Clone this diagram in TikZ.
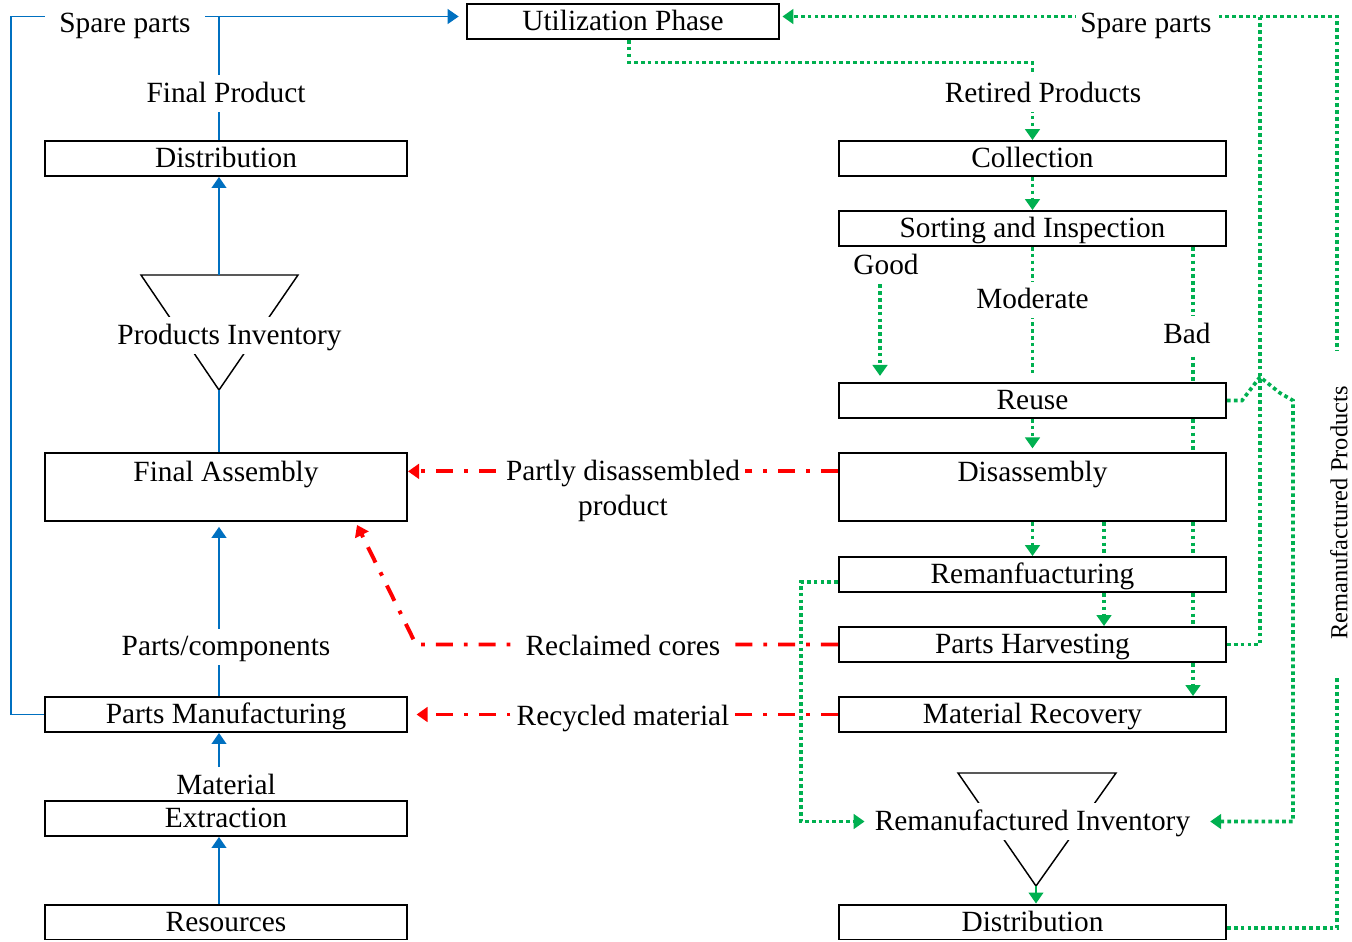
\documentclass[tikz,border=0pt]{standalone}
\usepackage{fontspec}
\setmainfont{Liberation Serif}
\usepackage{tikz}
\usetikzlibrary{calc, arrows.meta}

\definecolor{forwardblue}{HTML}{0070C0}
\definecolor{returngreen}{HTML}{00B050}

\begin{document}
\begin{tikzpicture}[x=0.409pt, y=-0.409pt,
		font=\fontsize{12pt}{14pt}\selectfont,
		>={Triangle[length=4.5pt, width=6pt]},
		stage/.style={draw, line width=0.8pt, fill=white, inner xsep=0pt, inner ysep=1.65pt, text height=9.3pt, text depth=1.7pt},
		left stage/.style={stage, minimum width=148.1pt},
		right stage/.style={stage, minimum width=158.3pt},
		tall/.style={inner ysep=1pt, text height=10.8pt, text depth=15pt},
		tag/.style={inner sep=2pt, text height=9pt, text depth=2pt},
		cut/.style={tag, fill=white},
		stock/.style={line width=0.6pt},
		forward flow/.style={forwardblue, line width=0.8pt},
		return flow/.style={returngreen, line width=1.5pt, dash pattern=on 1.5pt off 1.3pt},
		recovery flow/.style={red, line width=1.6pt, dash pattern=on 7pt off 4.5pt on 1.5pt off 4.5pt}]
			\useasboundingbox (0,0) rectangle (1352,941);

			\def\lx{226}
			\def\rx{1032.5}

			\coordinate (main line) at (219,0);
			\coordinate (top line) at (0,16.5);
			\coordinate (good line) at (880,0);
			\coordinate (harvest line) at (1104,0);
			\coordinate (bad line) at (1193,0);
			\coordinate (parts return) at (1260,0);
			\coordinate (inventory return) at (1293,0);
			\coordinate (product return) at (1337,0);

			\node[stage, minimum width=127.6pt] (utilization) at (623,21.5) {Utilization Phase};

			\node[left stage] (distribution) at (\lx,158.5) {Distribution};
			\node[left stage, tall] (final assembly) at (\lx,487) {Final Assembly};
			\node[left stage] (parts manufacturing) at (\lx,714.5) {Parts Manufacturing};
			\node[left stage] (extraction) at (\lx,818.5) {Extraction};
			\node[left stage] (resources) at (\lx,922) {Resources};

			\node[right stage] (collection) at (\rx,158.5) {Collection};
			\node[right stage] (sorting) at (\rx,228.5) {Sorting and Inspection};
			\node[right stage] (reuse) at (\rx,400.5) {Reuse};
			\node[right stage, tall] (disassembly) at (\rx,487) {Disassembly};
			\node[right stage] (remanufacturing) at (\rx,574.5) {Remanfuacturing};
			\node[right stage] (harvesting) at (\rx,644.5) {Parts Harvesting};
			\node[right stage] (recovery) at (\rx,714.5) {Material Recovery};
			\node[right stage] (redistribution) at (\rx,922) {Distribution};

			\coordinate (stock top left) at (141,275);
			\coordinate (stock top right) at (298,275);
			\coordinate (stock tip) at (219,390);
			\coordinate (reman stock top left) at (958,773);
			\coordinate (reman stock top right) at (1116,773);
			\coordinate (reman stock tip) at (1036,886);

			\begin{scope}[stock]
				\draw (stock top left) -- (stock top right) -- (stock tip) -- cycle;
				\draw (reman stock top left) -- (reman stock top right) -- (reman stock tip) -- cycle;
			\end{scope}

			\node[cut] (stock label) at (229.5,335.5) {Products Inventory};
			\node[cut] (reman stock label) at (1032.5,821.5) {Remanufactured Inventory};
			\node[tag] (material) at (\lx,786) {Material};
			\node[tag] (good) at (886,265.5) {Good};

			\begin{scope}[forward flow]
				\draw[->] (resources.north -| main line) -- (extraction.south -| main line);
				\draw[->] (material.north -| main line) -- (parts manufacturing.south -| main line);
				\draw[->, shorten >=2pt] (parts manufacturing.north -| main line) -- (final assembly.south -| main line);
				\draw (final assembly.north -| main line) -- (stock tip);
				\draw[->] (stock top left -| main line) -- (distribution.south -| main line);
				\draw[->] (distribution.north -| main line) |- ([xshift=-3pt]utilization.west |- top line);
				\draw (parts manufacturing.west) -- ++(-33,0) |- (main line |- top line);
			\end{scope}

			\begin{scope}[return flow]
				\draw[->] ([xshift=2.5pt]utilization.south) -- ++(0,22.5) -| (collection.north);
				\draw[->] (collection.south) -- (sorting.north);
				\draw[->, shorten >=2.5pt] (good.south -| good line) -- (reuse.north -| good line);
				\draw (sorting.south) -- ([yshift=3.5pt]reuse.north);
				\draw[->, shorten >=1.5pt] (reuse.south) -- (disassembly.north);
				\foreach \upper/\lower in {sorting/reuse, reuse/disassembly, disassembly/remanufacturing, remanufacturing/harvesting}
				{
					\draw (\upper.south -| bad line) -- (\lower.north -| bad line);
				}
				\draw[->] (harvesting.south -| bad line) -- (recovery.north -| bad line);
				\draw[->] (disassembly.south) -- (remanufacturing.north);
				\draw (disassembly.south -| harvest line) -- (remanufacturing.north -| harvest line);
				\draw[->] (remanufacturing.south -| harvest line) -- (harvesting.north -| harvest line);

				\draw[->, shorten >=6pt] (reuse.east) -- ++(15,0) -- (1260,377) -- (1280,393) -- (reuse.east -| inventory return) |- (reman stock label.east);
				\draw (harvesting.east) -| (parts return |- top line);
				\draw[->] ([yshift=-2.5pt]redistribution.east) -| (product return |- top line) -- ([xshift=1pt]utilization.east |- top line);
				\draw[->, shorten >=2pt] ([yshift=-3pt]remanufacturing.west) -- ++(-37,0) |- (reman stock label.west);
			\end{scope}

			\draw[returngreen, line width=0.8pt, ->] (reman stock tip) -- (redistribution.north -| reman stock tip);

			\begin{scope}[recovery flow]
				\draw[->] ([yshift=2pt]disassembly.mid west) -- ([yshift=2pt]final assembly.mid east);
				\draw[->] (harvesting.west) -- ++(-422,0) -- ($(final assembly.south east)+(-51,3)$);
				\draw[->, shorten >=3.5pt] (recovery.west) -- (parts manufacturing.east);
			\end{scope}

			\node[cut, inner xsep=6pt] (spare parts) at (125,23.5) {Spare parts};
			\node[cut] (returned spare parts) at (1146,23.5) {Spare parts};
			\node[cut] (final product) at (\lx,93.5) {Final Product};
			\node[cut] (retired products) at (1043,93.5) {Retired Products};
			\node[cut] (moderate) at (1032.5,300) {Moderate};
			\node[cut] (bad) at (1187,334.5) {Bad};
			\node[fill=white, inner sep=2pt, align=center] (partly disassembled) at (623,491) {Partly disassembled\\product};
			\node[cut] (parts components) at (\lx,647) {Parts/components};
			\node[cut] (reclaimed cores) at (623,647) {Reclaimed cores};
			\node[cut] (recycled material) at (623,717) {Recycled material};
			\node[cut, font=\fontsize{10pt}{12pt}\selectfont, rotate=90, inner xsep=14.5pt, inner ysep=1pt, text height=7pt, text depth=1pt] (remanufactured products) at (1340,513) {Remanufactured Products};
		\end{tikzpicture}
\end{document}
